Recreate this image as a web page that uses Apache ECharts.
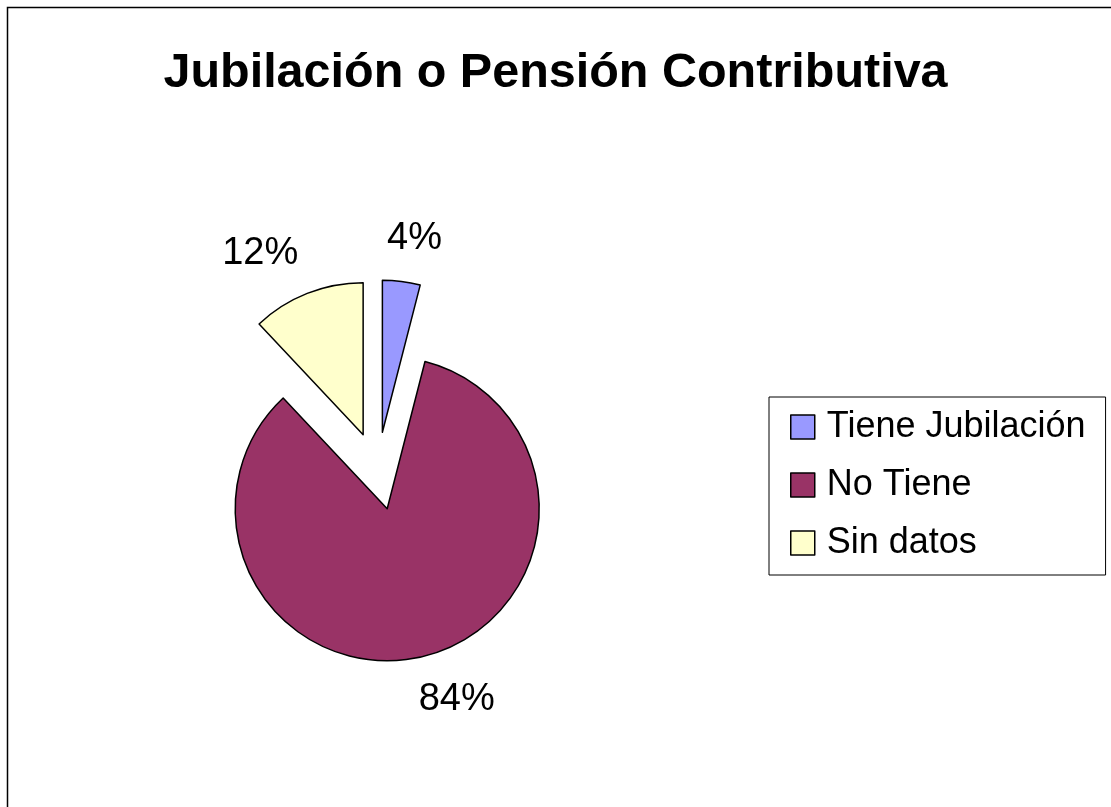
<!DOCTYPE html>
<html>
<head>
<meta charset="utf-8">
<script src="https://cdn.jsdelivr.net/npm/echarts@6/dist/echarts.min.js"></script>
<style>
html, body { margin: 0; padding: 0; background: #fff; }
#piechart { width: 1111px; height: 807px; }
</style>
</head>
<body>
<div id="piechart"></div>
<script>
var titulo = 'Jubilación o Pensión Contributiva';
var categorias = ['Tiene Jubilación', 'No Tiene', 'Sin datos'];
var valores = [4, 84, 12];
var colores = ['#9999FF', '#993366', '#FFFFCC'];

var myChart = echarts.init(document.getElementById('piechart'));

// todas las porciones separadas, como en el grafico original
var datos = categorias.map(function (nombre, i) {
    return { name: nombre, value: valores[i], selected: true, itemStyle: { color: colores[i] } };
});

var total = valores.reduce(function (a, b) { return a + b; }, 0);

// angulo medio de cada porcion (desde arriba, sentido horario)
function anguloMedio(idx) {
    var acum = 0;
    for (var i = 0; i < idx; i++) acum += valores[i];
    return (acum + valores[idx] / 2) / total * 2 * Math.PI;
}

var option = {
    animation: false,
    backgroundColor: '#fff',
    textStyle: { fontFamily: 'Liberation Sans, Arial, sans-serif' },
    title: {
        text: titulo,
        left: 'center',
        top: 49,
        padding: 0,
        textStyle: { fontSize: 48.5, fontWeight: 'bold', color: '#000' }
    },
    graphic: [{
        type: 'rect',
        silent: true,
        shape: { x: 7.5, y: 7.5, width: 1200, height: 900 },
        style: { fill: 'none', stroke: '#000', lineWidth: 1.5 }
    }],
    legend: {
        data: categorias,
        orient: 'vertical',
        left: 769,
        top: 397,
        padding: [12, 20, 14, 21],
        itemGap: 22,
        itemWidth: 24,
        itemHeight: 24,
        icon: 'rect',
        borderColor: '#000',
        borderWidth: 1,
        selectedMode: false,
        itemStyle: { borderColor: '#000', borderWidth: 1.5 },
        textStyle: { fontSize: 36, color: '#000', padding: [0, 0, 0, 7] }
    },
    series: [{
        type: 'pie',
        center: [377.5, 471],
        radius: 152,
        startAngle: 90,
        clockwise: true,
        selectedMode: 'multiple',
        selectedOffset: 39,
        avoidLabelOverlap: false,
        itemStyle: { borderColor: '#000', borderWidth: 1.5 },
        select: { itemStyle: { borderColor: '#000', borderWidth: 1.5 } },
        emphasis: { disabled: true },
        label: {
            show: true,
            position: 'outside',
            formatter: '{c}%',
            fontSize: 38,
            color: '#000',
            distanceToLabelLine: 0
        },
        labelLine: { show: false, length: 44, length2: 0 },
        labelLayout: function (p) {
            var w = p.labelRect.width;
            var k = Math.min(1, 2.2 * Math.abs(Math.sin(anguloMedio(p.dataIndex))));
            var corr = w / 2 * (1 - k);
            return { dx: p.align === 'left' ? -corr : corr, dy: 1 };
        },
        data: datos
    }]
};

myChart.setOption(option);
</script>
</body>
</html>
